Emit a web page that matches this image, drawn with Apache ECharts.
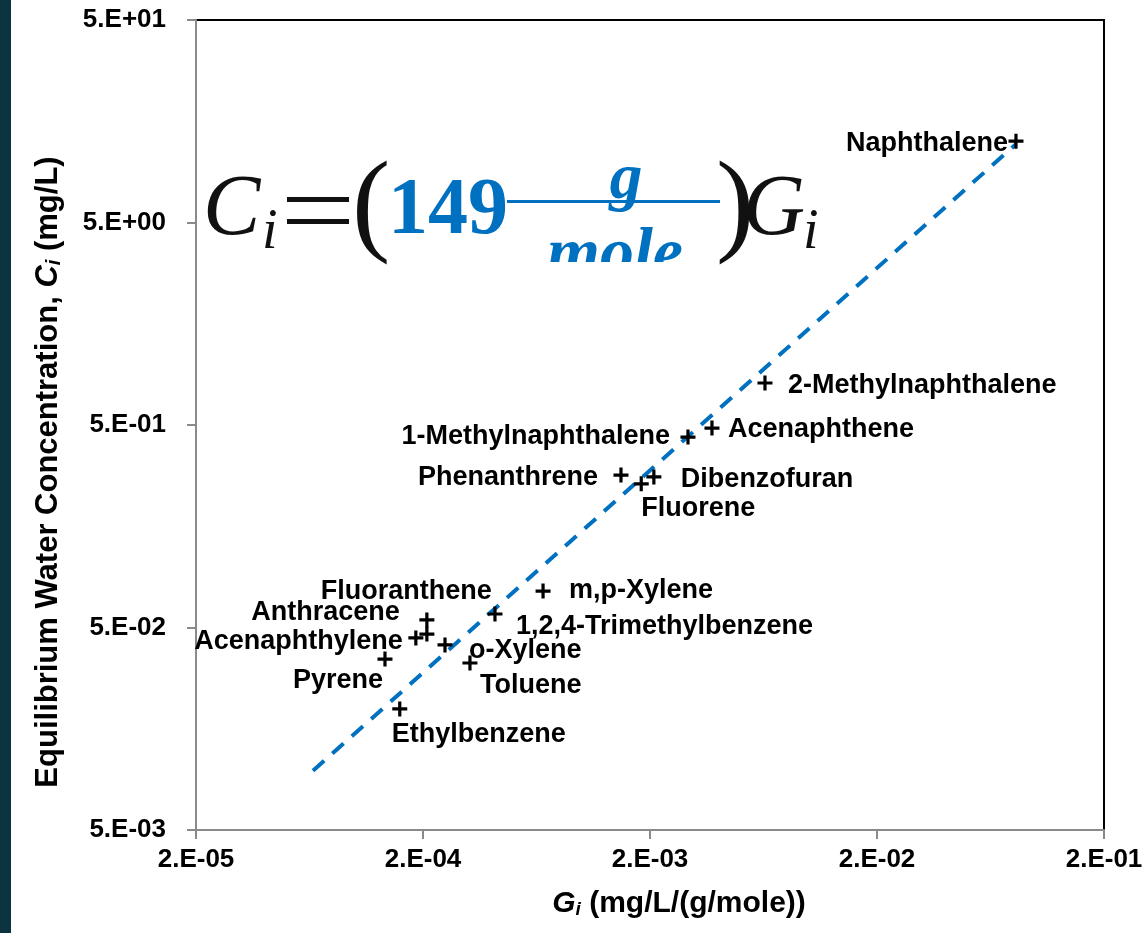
<!DOCTYPE html>
<html>
<head>
<meta charset="utf-8">
<style>
html,body{margin:0;padding:0;background:#fff;}
#chart{width:1148px;height:933px;}
</style>
<script src="https://cdn.jsdelivr.net/npm/echarts@6/dist/echarts.min.js"></script>
</head>
<body>
<div id="chart"></div>
<script>
// ---- data ----
const compounds = ['Naphthalene','2-Methylnaphthalene','Acenaphthene','1-Methylnaphthalene','Phenanthrene','Dibenzofuran','Fluorene','Fluoranthene','m,p-Xylene','Anthracene','1,2,4-Trimethylbenzene','Acenaphthylene','o-Xylene','Pyrene','Toluene','Ethylbenzene'];
const gValues = [0.0819,0.00642,0.00375,0.00294,0.00149,0.00208,0.00183,0.000208,0.000676,0.000208,0.000415,0.000186,0.000250,0.000136,0.000322,0.000158];
const cValues = [12.6,0.806,0.483,0.436,0.283,0.277,0.256,0.0464,0.0757,0.0545,0.0583,0.0444,0.0410,0.0349,0.0334,0.0198];
const fitG = [6.55e-5, 0.082];
const fitC = [0.0098, 12.2];
const xTickValues = [2e-5, 2e-4, 2e-3, 2e-2, 2e-1];
const xTickLabels = ['2.E-05','2.E-04','2.E-03','2.E-02','2.E-01'];
const yTickValues = [5e-3, 5e-2, 5e-1, 5, 50];
const yTickLabels = ['5.E-03','5.E-02','5.E-01','5.E+00','5.E+01'];

// ---- label placement (layout only): [dx, dy, align] ----
const labelPlacement = {
  'Naphthalene':[-8,2,'right'],
  '2-Methylnaphthalene':[23,3,'left'],
  'Acenaphthene':[16,2,'left'],
  '1-Methylnaphthalene':[-18,0,'right'],
  'Phenanthrene':[-23,2,'right'],
  'Dibenzofuran':[27,3,'left'],
  'Fluorene':[0,25,'left'],
  'Fluoranthene':[65,-43,'right'],
  'm,p-Xylene':[26,0,'left'],
  'Anthracene':[-27,-7,'right'],
  '1,2,4-Trimethylbenzene':[21,13,'left'],
  'Acenaphthylene':[-13,4,'right'],
  'o-Xylene':[24,6,'left'],
  'Pyrene':[-2,21,'right'],
  'Toluene':[10,23,'left'],
  'Ethylbenzene':[-8,26,'left']
};

function tickFormatter(values, labels){
  return function(v){
    for (let i=0;i<values.length;i++){
      if (Math.abs(Math.log10(v) - Math.log10(values[i])) < 0.01) return labels[i];
    }
    return '';
  };
}

const sans = "'Liberation Sans', Arial, sans-serif";
const serif = "'Liberation Serif', 'Times New Roman', serif";
const blue = '#0070C0';

const scatterData = compounds.map((n,i)=>{
  const p = labelPlacement[n];
  return {
    name:n, value:[gValues[i], cValues[i]],
    label:{show:true, formatter:n, position:'inside', offset:[p[0],p[1]], align:p[2], verticalAlign:'middle',
           color:'#000', opacity:1, textBorderWidth:0, fontFamily:sans, fontWeight:'bold', fontSize:27}
  };
});

const chart = echarts.init(document.getElementById('chart'), null, {renderer:'canvas'});
chart.setOption({
  animation:false,
  backgroundColor:'#fff',
  grid:{left:196, right:44, top:20, bottom:103, show:true, borderColor:'#000', borderWidth:2, backgroundColor:'#fff'},
  xAxis:{
    type:'log', logBase:10, min:2e-5, max:0.2,
    name:'{it|G}{sub|i}{n| (mg/L/(g/mole))}',
    nameLocation:'middle', nameGap:58,
    nameTextStyle:{padding:[0,0,0,58], rich:{
      it:{fontFamily:sans,fontWeight:'bold',fontStyle:'italic',fontSize:30,color:'#000'},
      sub:{fontFamily:sans,fontWeight:'bold',fontStyle:'italic',fontSize:19,color:'#000',padding:[12,0,0,0]},
      n:{fontFamily:sans,fontWeight:'bold',fontSize:30,color:'#000'}
    }},
    axisLine:{show:true, lineStyle:{color:'#8a8a8a', width:2}},
    axisTick:{show:true, length:9, inside:false, lineStyle:{color:'#8a8a8a', width:2}, customValues:xTickValues},
    axisLabel:{show:true, margin:17, fontFamily:sans, fontWeight:'bold', fontSize:26, color:'#000', customValues:xTickValues, formatter:tickFormatter(xTickValues,xTickLabels)},
    splitLine:{show:false}, minorTick:{show:false}
  },
  yAxis:{
    type:'log', logBase:10, min:5e-3, max:50,
    name:'{n|Equilibrium Water Concentration, }{it|C}{sub|i}{n| (mg/L)}',
    nameLocation:'middle', nameGap:132, nameRotate:90,
    nameTextStyle:{padding:[0,94,0,0], rich:{
      it:{fontFamily:sans,fontWeight:'bold',fontStyle:'italic',fontSize:31,color:'#000'},
      sub:{fontFamily:sans,fontWeight:'bold',fontStyle:'italic',fontSize:20,color:'#000',padding:[12,0,0,0]},
      n:{fontFamily:sans,fontWeight:'bold',fontSize:31,color:'#000'}
    }},
    axisLine:{show:true, lineStyle:{color:'#8a8a8a', width:2}},
    axisTick:{show:true, length:9, inside:false, lineStyle:{color:'#8a8a8a', width:2}, customValues:yTickValues},
    axisLabel:{show:true, margin:30, fontFamily:sans, fontWeight:'bold', fontSize:26, color:'#000', customValues:yTickValues, formatter:tickFormatter(yTickValues,yTickLabels)},
    splitLine:{show:false}, minorTick:{show:false}
  },
  series:[
    {
      type:'line', data:fitG.map((g,i)=>[g, fitC[i]]), symbol:'none', silent:true, z:2,
      lineStyle:{color:blue, width:4, type:[15,11], cap:'butt'}
    },
    {
      type:'scatter', data:scatterData, z:3,
      symbol:'path://M5.5,0h3v5.5h5.5v3h-5.5v5.5h-3v-5.5h-5.5v-3h5.5z',
      symbolSize:15,
      itemStyle:{color:'#000', opacity:1},
      label:{fontFamily:sans, fontWeight:'bold', fontSize:27, color:'#000'}
    }
  ],
  graphic:[
    {type:'rect', left:0, top:0, shape:{x:0,y:0,width:11,height:933}, style:{fill:'#0b3440'}, z:100},
    {type:'text', x:203, y:211, z:100, style:{text:'C', font:'italic 86px '+serif, fill:'#111', textAlign:'left', textVerticalAlign:'middle'}},
    {type:'text', x:262, y:233, z:100, style:{text:'i', font:'italic 56px '+serif, fill:'#111', textAlign:'left', textVerticalAlign:'middle'}},
    {type:'rect', z:100, shape:{x:287,y:197,width:62,height:5}, style:{fill:'#111'}},
    {type:'rect', z:100, shape:{x:287,y:219,width:62,height:5}, style:{fill:'#111'}},
    {type:'text', x:352, y:210, z:100, style:{text:'(', font:'115px '+serif, fill:'#111', textAlign:'left', textVerticalAlign:'middle'}},
    {type:'text', x:388, y:212, z:100, style:{text:'149', font:'bold 80px '+serif, fill:blue, textAlign:'left', textVerticalAlign:'middle'}},
    {type:'rect', z:100, shape:{x:507,y:200,width:213,height:3}, style:{fill:blue}},
    {type:'text', x:626, y:181, z:100, style:{text:'g', font:'bold italic 66px '+serif, fill:blue, textAlign:'center', textVerticalAlign:'middle'}},
    {type:'text', x:615, y:256, z:100, style:{text:'mole', font:'bold italic 68px '+serif, fill:blue, textAlign:'center', textVerticalAlign:'middle'}},
    {type:'rect', z:101, shape:{x:505,y:262,width:214,height:30}, style:{fill:'#fff'}},
    {type:'text', x:716, y:210, z:100, style:{text:')', font:'115px '+serif, fill:'#111', textAlign:'left', textVerticalAlign:'middle'}},
    {type:'text', x:743, y:211, z:100, style:{text:'G', font:'italic 86px '+serif, fill:'#111', textAlign:'left', textVerticalAlign:'middle'}},
    {type:'text', x:803, y:233, z:100, style:{text:'i', font:'italic 56px '+serif, fill:'#111', textAlign:'left', textVerticalAlign:'middle'}}
  ]
});
</script>
</body>
</html>
